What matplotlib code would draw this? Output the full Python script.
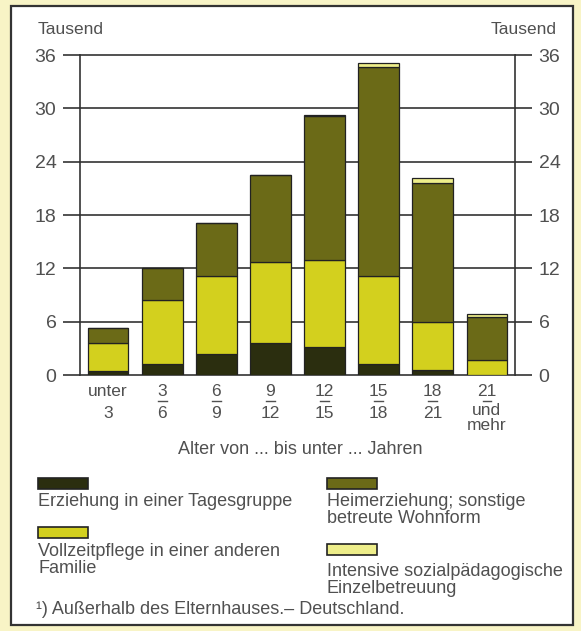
import matplotlib.pyplot as plt
import matplotlib.patches as mpatches
import matplotlib.transforms as mtransforms
from matplotlib.lines import Line2D

plt.rcParams['font.family'] = ['Liberation Sans', 'DejaVu Sans']

# data (Tausend)
top_labels = ['unter', '3', '6', '9', '12', '15', '18', '21']
bottom_labels = ['3', '6', '9', '12', '15', '18', '21', 'und\nmehr']
is_fraction = [False, True, True, True, True, True, True, True]

erziehung = [0.4, 1.2, 2.35, 3.6, 3.1, 1.2, 0.55, 0.05]
vollzeit = [3.2, 7.2, 8.75, 9.1, 9.8, 9.9, 5.45, 1.65]
heim = [1.7, 3.6, 5.95, 9.8, 16.2, 23.5, 15.6, 4.8]
intensiv = [0.0, 0.05, 0.05, 0.05, 0.1, 0.5, 0.6, 0.4]

series_names = ['Erziehung in einer Tagesgruppe',
                'Heimerziehung; sonstige\nbetreute Wohnform',
                'Vollzeitpflege in einer anderen\nFamilie',
                'Intensive sozialpädagogische\nEinzelbetreuung']

c_dark = '#2b2e0f'
c_yell = '#d3d01e'
c_olive = '#6b6a17'
c_light = '#eeee8a'
txt = '#505050'
edge = '#222222'

W, H = 581, 631
fig = plt.figure(figsize=(W / 100, H / 100), dpi=100)
fig.patch.set_facecolor('#f8f4c6')

def fx(px):
    return px / W

def fy(py):
    return 1 - py / H

# white frame
frame = mpatches.Rectangle((fx(11), fy(625)), fx(562), 619 / H, transform=fig.transFigure,
                           facecolor='white', edgecolor='#333333', linewidth=1.6, zorder=-10)
fig.patches.append(frame)

ax = fig.add_axes([fx(80), fy(375), fx(435), 320 / H])
ax.set_zorder(1)
ax.set_facecolor('white')
x = list(range(len(erziehung)))

b1 = erziehung
b2 = [a + b for a, b in zip(b1, vollzeit)]
b3 = [a + b for a, b in zip(b2, heim)]
kw = dict(width=0.75, edgecolor=edge, linewidth=0.9, zorder=3)
ax.bar(x, erziehung, color=c_dark, **kw)
ax.bar(x, vollzeit, bottom=b1, color=c_yell, **kw)
ax.bar(x, heim, bottom=b2, color=c_olive, **kw)
ax.bar(x, intensiv, bottom=b3, color=c_light, **kw)

ax.set_xlim(-0.52, 7.52)
ax.set_ylim(0, 36)
yt = [0, 6, 12, 18, 24, 30, 36]
ax.set_yticks(yt)
ax.set_yticklabels([str(v) for v in yt])
ax.tick_params(axis='y', which='both', left=True, right=True, labelleft=True, labelright=True,
               length=12, width=1.2, color='#333333', labelsize=14, labelcolor=txt, pad=5)
ax.set_xticks([])
for yv in yt:
    ax.axhline(yv, color='#333333', linewidth=1.2, zorder=1, clip_on=False)
for s in ['top', 'bottom']:
    ax.spines[s].set_visible(False)
for s in ['left', 'right']:
    ax.spines[s].set_color('#333333')
    ax.spines[s].set_linewidth(1.2)

fig.text(fx(38), fy(30), 'Tausend', fontsize=12.5, color=txt, va='center', ha='left')
fig.text(fx(557), fy(30), 'Tausend', fontsize=12.5, color=txt, va='center', ha='right')

# x labels
trans = mtransforms.blended_transform_factory(ax.transData, fig.transFigure)
for i in x:
    ax.text(i, fy(391), top_labels[i], transform=trans, ha='center', va='center',
            fontsize=12.5, color=txt)
    multi = '\n' in bottom_labels[i]
    ax.text(i, fy(403) if multi else fy(414), bottom_labels[i], transform=trans, ha='center',
            va='top' if multi else 'center', fontsize=12.5, color=txt, linespacing=1.0)
    if is_fraction[i]:
        ax.add_artist(Line2D([i - 0.08, i + 0.08], [fy(401), fy(401)], transform=trans,
                             color=txt, linewidth=1.0, clip_on=False))

fig.text(fx(300), fy(450), 'Alter von ... bis unter ... Jahren', fontsize=13, color=txt,
         ha='center', va='center')

# legend
leg = [(38, 478, c_dark, series_names[0], 503),
       (327, 478, c_olive, series_names[1], 503),
       (38, 527, c_yell, series_names[2], 553),
       (327, 544, c_light, series_names[3], 573)]
for lx, ly, col, name, ty in leg:
    r = mpatches.Rectangle((fx(lx), fy(ly + 11)), fx(50), 11 / H, transform=fig.transFigure,
                           facecolor=col, edgecolor=edge, linewidth=1.2)
    fig.patches.append(r)
    fig.text(fx(lx), fy(ty - 10), name, fontsize=13, color=txt, ha='left', va='top',
             linespacing=1.0)

fig.text(fx(36), fy(610), '¹) Außerhalb des Elternhauses.– Deutschland.', fontsize=13,
         color=txt, ha='left', va='center')

fig.savefig('out.png', dpi=100, facecolor=fig.get_facecolor())
